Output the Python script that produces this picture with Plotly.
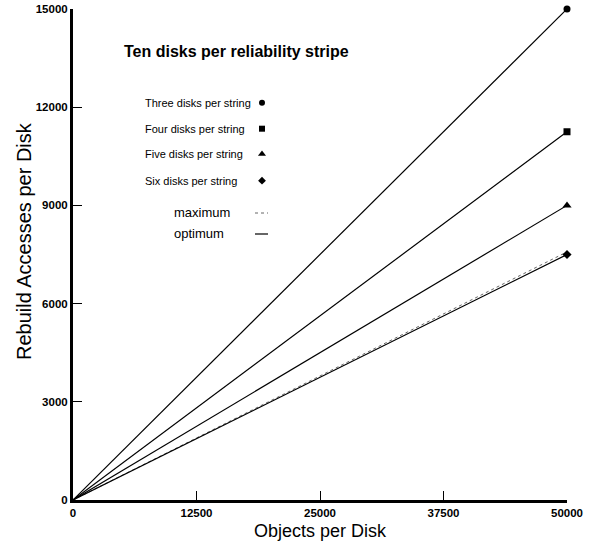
import plotly.graph_objects as go

# Data
objects = [0, 50000]
three_disks = [0, 15000]
four_disks = [0, 11250]
five_disks = [0, 9000]
six_disks = [0, 7500]
six_disks_max = [0, 7580]

series_names = ["Three disks per string", "Four disks per string",
                "Five disks per string", "Six disks per string"]
series_values = [three_disks, four_disks, five_disks, six_disks]
series_symbols = ["circle", "square", "triangle-up", "diamond"]
legend_symbols = ["circle", "square", "triangle-up", "diamond"]

x_ticks = [0, 12500, 25000, 37500, 50000]
y_ticks = [0, 3000, 6000, 9000, 12000, 15000]

FONT = "Liberation Sans, Arial, sans-serif"

fig = go.Figure()

# maximum (dotted) for six disks
fig.add_trace(go.Scatter(x=objects, y=six_disks_max, mode="lines",
                         line=dict(color="#666666", width=1, dash="dot"),
                         showlegend=False, hoverinfo="skip"))

for name, vals, sym in zip(series_names, series_values, series_symbols):
    fig.add_trace(go.Scatter(x=objects, y=vals, mode="lines",
                             line=dict(color="black", width=1.2),
                             showlegend=False, name=name))
    fig.add_trace(go.Scatter(x=objects[-1:], y=vals[-1:], mode="markers",
                             marker=dict(symbol=sym, color="black",
                                         size=7 if sym != "triangle-up" else 8),
                             showlegend=False, cliponaxis=False, name=name))

W, H = 591, 545
L, R, T, B = 73, 24, 9, 45
pw, ph = W - L - R, H - T - B


def px(xp):
    return (xp - L) / pw


def py(yp):
    return (H - B - yp) / ph


def ann(text, xp, yp, size, xanchor="left", family=FONT):
    return dict(text=text, x=px(xp), y=py(yp), xref="paper", yref="paper",
                xanchor=xanchor, yanchor="middle", showarrow=False,
                font=dict(size=size, color="black", family=family))


annotations = [ann("<b>Ten disks per reliability stripe</b>", 122, 52, 16)]
rows_y = [102.7, 128.7, 154, 180.7]
for name, yy in zip(series_names, rows_y):
    annotations.append(ann(name, 143, yy, 11))
for label, yy in [("maximum", 212.7), ("optimum", 233.3)]:
    annotations.append(ann(label, 172, yy, 13))

# legend key markers (paper coordinates)
for sym, yy in zip(legend_symbols, rows_y):
    fig.add_trace(go.Scatter(x=[px(262)], y=[py(yy)], xaxis="x2", yaxis="y2",
                             mode="markers", cliponaxis=False, showlegend=False,
                             hoverinfo="skip",
                             marker=dict(symbol=sym, color="black",
                                         size=6 if sym != "triangle-up" else 7)))

# axis titles
annotations.append(dict(text="Objects per Disk", x=px(320), y=py(531), xref="paper",
                        yref="paper", xanchor="center", yanchor="middle",
                        showarrow=False, font=dict(size=18, family=FONT, color="black")))
annotations.append(dict(text="Rebuild Accesses per Disk", x=px(24), y=py(241),
                        xref="paper", yref="paper", xanchor="center", yanchor="middle",
                        textangle=-90, showarrow=False,
                        font=dict(size=20, family=FONT, color="black")))

shapes = [
    dict(type="line", xref="paper", yref="paper", x0=px(255), x1=px(268),
         y0=py(213), y1=py(213), line=dict(color="#666666", width=1, dash="dot")),
    dict(type="line", xref="paper", yref="paper", x0=px(255), x1=px(268),
         y0=py(234), y1=py(234), line=dict(color="black", width=1.2)),
]

fig.update_layout(
    width=W, height=H,
    margin=dict(l=L, r=R, t=T, b=B, pad=0, autoexpand=False),
    paper_bgcolor="white", plot_bgcolor="white",
    font=dict(family=FONT, color="black"),
    annotations=annotations, shapes=shapes,
    xaxis=dict(range=[0, 50000], tickvals=x_ticks,
               ticktext=[f"<b>{v}</b>" for v in x_ticks],
               ticks="inside", ticklen=9, tickwidth=1, tickcolor="black",
               showline=True, linewidth=3, linecolor="black",
               showgrid=False, zeroline=False, automargin=False,
               tickfont=dict(size=11.5, family=FONT)),
    yaxis=dict(range=[0, 15000], tickvals=y_ticks,
               ticktext=[f"<b>{v}</b>" for v in y_ticks],
               ticks="inside", ticklen=9, tickwidth=1, tickcolor="black",
               showline=True, linewidth=3, linecolor="black",
               showgrid=False, zeroline=False, automargin=False,
               tickfont=dict(size=11.5, family=FONT)),
    xaxis2=dict(range=[0, 1], domain=[0, 1], overlaying="x", visible=False,
                anchor="y2"),
    yaxis2=dict(range=[0, 1], domain=[0, 1], overlaying="y", visible=False,
                anchor="x2"),
)

fig.write_html("out.html", config={"displayModeBar": False},
               post_script="document.body.style.margin='0';"
                           "document.body.style.overflow='hidden';")
